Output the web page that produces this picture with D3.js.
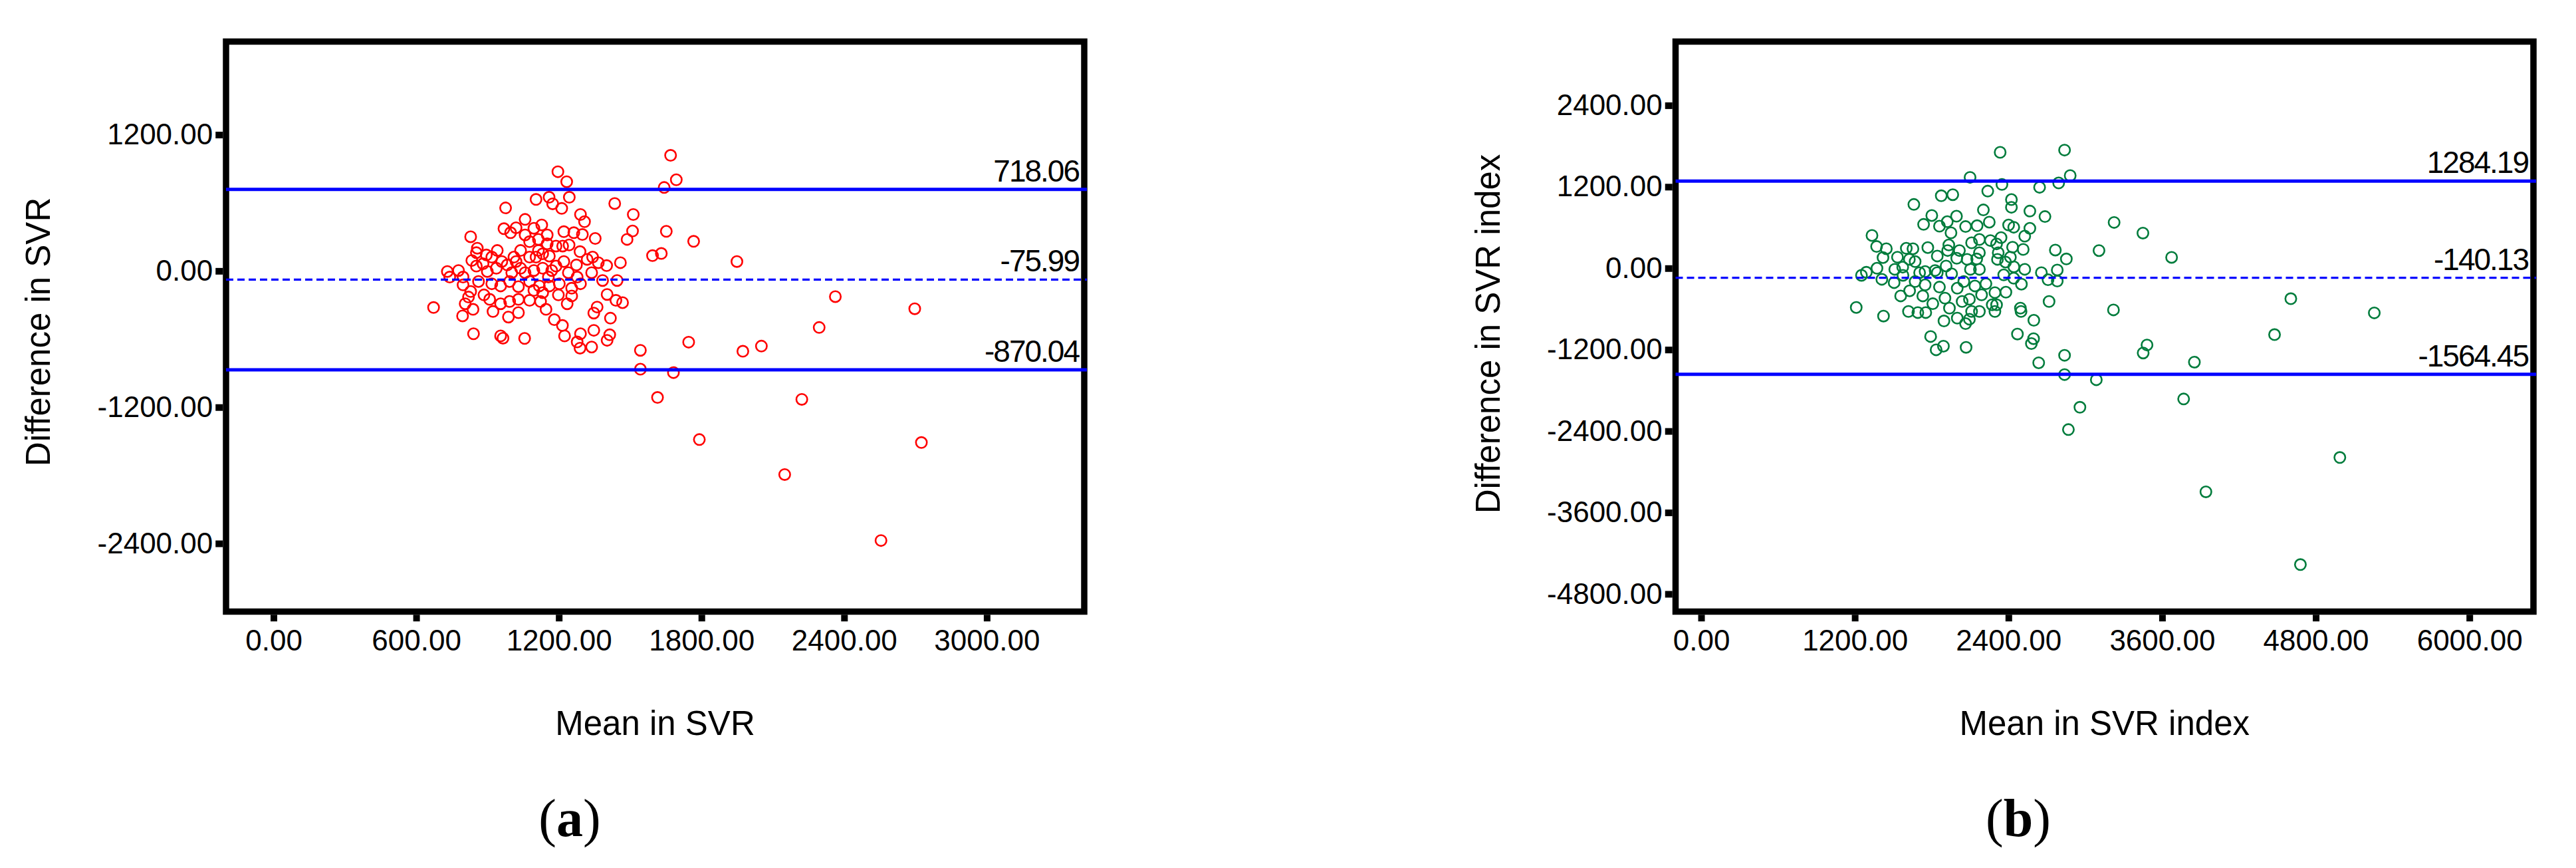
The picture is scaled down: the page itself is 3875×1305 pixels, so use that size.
<!DOCTYPE html>
<html><head><meta charset="utf-8">
<script src="https://cdn.jsdelivr.net/npm/d3@7"></script>
<style>body{margin:0;background:#fff}svg{display:block}</style>
</head><body><svg id="c" width="3875" height="1305"></svg>
<script>
// ---------- data ----------
const svrMean = [1196,1233,1104,1159,1174,1212,1244,976,1435,1513,
1291,1308,1510,1487,1058,969,997,1020,1058,1095,
1128,1151,1221,1263,1299,1353,829,857,853,895,
941,918,960,983,1020,1039,1077,1114,1151,1188,
1216,1243,1289,1077,1104,1132,1160,834,853,899,
731,778,797,741,937,1002,1058,1095,1132,1170,
1221,1240,1274,1277,1319,1342,1366,1401,1459,1338,
1384,1445,797,829,820,806,839,795,673,885,
909,955,993,1030,1077,1118,1156,1202,1254,1291,
1095,1132,1198,1254,993,1030,923,955,988,1030,
1077,1123,1146,1235,1403,1440,1468,1361,1347,1417,
1181,1215,1224,1347,1291,1277,1289,1338,1414,1403,
841,955,965,1056,1543,1543,1011,881,1188,1039,
862,918,1160,1114,
1949,2363,2697,2295,1974,2052,2222,2725,2150,2555,
1670,1694,1643,1652,1767,1594,1631,1746,1682,1615,1791];
const svrDiff = [874,786,630,649,591,551,649,555,594,497,
497,434,352,278,454,372,337,380,317,376,
405,317,346,337,321,286,301,200,161,141,
180,122,83,53,83,180,258,278,239,219,
219,229,170,122,122,151,131,92,43,-5,
-5,4,-54,-54,24,-15,-15,4,24,4,
83,-15,53,-54,102,122,73,47,73,-15,
-84,-84,-123,-181,-230,-289,-338,-396,-322,-211,
-250,-132,-93,-138,-93,-132,-54,-113,-152,-113,
-171,-191,-211,-220,-269,-250,-357,-289,-406,-367,
-259,-269,-338,-289,-207,-259,-279,-318,-371,-416,
-429,-480,-572,-523,-553,-625,-680,-670,-562,-611,
-553,-572,-592,-594,-699,-865,122,63,43,24,
-93,-113,-132,180,
83,-226,-333,-498,-707,-662,-1131,-1511,-1793,-2374,
1018,803,735,349,261,135,154,-627,-895,-1114,-1485];

const svriMean = [2100,2349,2238,2643,2792,2882,1875,1965,1661,2423,
2423,2204,2567,2685,1801,1737,1861,1922,1994,1951,
2065,2155,2250,2401,2441,2567,2527,1334,1370,1446,
1420,1602,1654,1770,1925,1934,2112,2173,2259,2307,
2342,2432,2515,2320,2314,2377,2442,2527,2766,2852,
1626,1671,1574,1512,1373,1290,1252,1411,1507,1576,
1706,1749,1844,1913,1996,2077,2152,2173,1956,2103,
2173,2657,2781,2709,2781,2501,2441,2363,1628,1558,
1749,1731,1861,1904,2000,2051,2138,2224,2190,2095,
2038,1939,2294,2380,2273,2307,2294,2173,2112,1619,
1692,1754,1896,2000,2065,2095,1211,1424,2493,2498,
2717,2598,2470,2596,2579,1792,1892,1835,2069,2636,
2838,2838,1827,1671,1809,1844,2017,2415,1533,
2335,2838,
3225,3450,3107,3674,3220,4605,5257,4478,3482,3452,3852,3086,2958,2868,3768,3942,4988,4680];
const svriDiff = [1339,1234,1136,1192,1257,1365,1068,1084,940,1012,
898,859,842,761,777,646,620,686,767,522,
614,627,679,637,604,588,473,483,320,287,
157,294,287,304,261,343,375,424,408,359,
451,310,277,229,131,91,20,-16,268,137,
131,98,16,-16,0,-59,-105,-163,-212,-105,
-65,-49,180,33,147,131,137,229,-82,-16,
-16,-65,-26,-170,-189,-235,-147,-98,-333,-408,
-245,-408,-278,-441,-294,-196,-261,-229,-392,-457,
-490,-588,-359,-353,-539,-539,-637,-637,-637,-637,
-653,-653,-777,-735,-816,-751,-578,-705,-588,-637,
-490,-767,-970,-1038,-1110,-1006,-1149,-1202,-1166,-1394,
-1283,-1567,-33,-196,-523,-65,261,163,163,
1708,1741,
675,518,260,160,-614,-449,-658,-978,-1131,-1249,-1384,-1643,-2049,-2378,-1927,-3295,-2789,-4367];

const svrLines = [718.06, -75.99, -870.04];
const svriLines = [1284.19, -140.13, -1564.45];
const svrXTicks = [0, 600, 1200, 1800, 2400, 3000];
const svrYTicks = [1200, 0, -1200, -2400];
const svriXTicks = [0, 1200, 2400, 3600, 4800, 6000];
const svriYTicks = [2400, 1200, 0, -1200, -2400, -3600, -4800];
const xTitles = ["Mean in SVR", "Mean in SVR index"];
const yTitles = ["Difference in SVR", "Difference in SVR index"];
const panelLetters = ["a", "b"];

// ---------- layout ----------
const fmt = d3.formatLocale({decimal: ".", thousands: ",", grouping: [3], currency: ["", ""], minus: "-"}).format(".2f");
const SANS = "'Liberation Sans', Arial, sans-serif";
const SERIF = "'Liberation Serif', 'Times New Roman', serif";

const panels = [
  {mean: svrMean, diff: svrDiff, lines: svrLines, xTicks: svrXTicks, yTicks: svrYTicks,
   xDomain: [-200, 3410], yDomain: [-3000, 2020], xRange: [340, 1631], yRange: [919.5, 62.5],
   color: "#ff0000", xTitle: xTitles[0], yTitle: yTitles[0], yTitleX: 75, yTitleY: 499,
   letter: panelLetters[0], letterX: 857},
  {mean: svriMean, diff: svriDiff, lines: svriLines, xTicks: svriXTicks, yTicks: svriYTicks,
   xDomain: [-200, 6500], yDomain: [-5060, 3340], xRange: [2520.5, 3811], yRange: [919.5, 62.5],
   color: "#007c3c", xTitle: xTitles[1], yTitle: yTitles[1], yTitleX: 2256, yTitleY: 502,
   letter: panelLetters[1], letterX: 3036}
];

const svg = d3.select("#c");
svg.append("rect").attr("width", 3875).attr("height", 1305).attr("fill", "#fff");
const FW = 9.5;

panels.forEach(p => {
  const x = d3.scaleLinear().domain(p.xDomain).range(p.xRange);
  const y = d3.scaleLinear().domain(p.yDomain).range(p.yRange);
  const g = svg.append("g");

  // points
  g.append("g").selectAll("circle")
    .data(p.mean.map((m, i) => [m, p.diff[i]]))
    .join("circle")
    .attr("cx", d => x(d[0])).attr("cy", d => y(d[1])).attr("r", 8.2)
    .attr("fill", "none").attr("stroke", p.color).attr("stroke-width", 2.6);

  // frame
  g.append("rect")
    .attr("x", p.xRange[0]).attr("y", p.yRange[1])
    .attr("width", p.xRange[1] - p.xRange[0]).attr("height", p.yRange[0] - p.yRange[1])
    .attr("fill", "none").attr("stroke", "#000").attr("stroke-width", FW);

  // axes
  const ya = d3.axisLeft(y).tickValues(p.yTicks).tickSize(11).tickPadding(4).tickFormat(fmt);
  const yg = g.append("g").attr("transform", `translate(${p.xRange[0] - FW / 2},0)`).call(ya);
  const xa = d3.axisBottom(x).tickValues(p.xTicks).tickSize(10).tickPadding(13).tickFormat(fmt);
  const xg = g.append("g").attr("transform", `translate(0,${p.yRange[0] + FW / 2})`).call(xa);
  [yg, xg].forEach(ax => {
    ax.select(".domain").remove();
    ax.attr("font-size", 44).attr("font-family", SANS);
    ax.selectAll(".tick line").attr("stroke", "#000").attr("stroke-width", 10);
    ax.selectAll(".tick text").attr("fill", "#000");
  });

  // mean and limits of agreement lines
  p.lines.forEach((v, i) => {
    g.append("line")
      .attr("x1", p.xRange[0]).attr("x2", p.xRange[1] + 4)
      .attr("y1", y(v)).attr("y2", y(v))
      .attr("stroke", "#0000ff").attr("stroke-width", i === 1 ? 3.2 : 5)
      .attr("stroke-dasharray", i === 1 ? "11,6" : null);
    g.append("text")
      .attr("x", p.xRange[1] - 8).attr("y", y(v) - 12)
      .attr("text-anchor", "end").attr("font-family", SANS)
      .attr("font-size", 46).attr("letter-spacing", -2).attr("fill", "#000")
      .text(fmt(v));
  });

  // titles
  g.append("text")
    .attr("x", (p.xRange[0] + p.xRange[1]) / 2).attr("y", 1105)
    .attr("text-anchor", "middle").attr("font-family", SANS).attr("font-size", 51)
    .text(p.xTitle);
  g.append("text")
    .attr("transform", `translate(${p.yTitleX},${p.yTitleY}) rotate(-90)`)
    .attr("text-anchor", "middle").attr("font-family", SANS).attr("font-size", 51)
    .text(p.yTitle);

  // panel letter
  const lt = g.append("text")
    .attr("x", p.letterX).attr("y", 1257)
    .attr("text-anchor", "middle").attr("font-family", SERIF).attr("font-size", 80);
  lt.append("tspan").text("(");
  lt.append("tspan").attr("font-weight", "bold").text(p.letter);
  lt.append("tspan").text(")");
});
</script>
</body></html>
